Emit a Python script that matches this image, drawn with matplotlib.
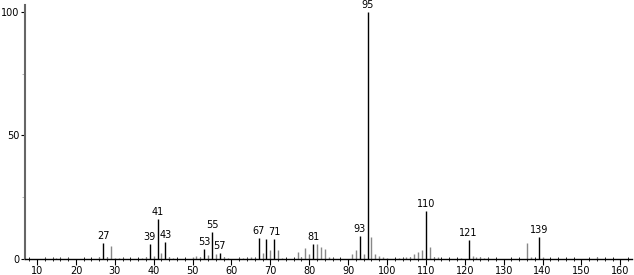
import matplotlib
matplotlib.use('Agg')
import matplotlib.pyplot as plt
from matplotlib.ticker import MultipleLocator

# Espectro de masas: m/z e intensidad relativa (%)
mz = [12, 14, 15, 16, 18, 26, 27, 28, 29, 30, 31, 32, 37, 38, 39, 40, 41, 42, 43, 44, 45,
      50, 51, 52, 53, 54, 55, 56, 57, 58, 59, 62, 63, 64, 65, 66, 67, 68, 69, 70, 71, 72, 73,
      77, 78, 79, 80, 81, 82, 83, 84, 85, 86, 91, 92, 93, 94, 95, 96, 97, 98, 99, 100,
      103, 104, 105, 106, 107, 108, 109, 110, 111, 112, 113, 119, 121, 122, 123, 124, 125,
      126, 136, 137, 139, 140, 154]
intensidad = [0.3, 0.3, 0.5, 0.3, 0.4, 1.0, 6.5, 1.0, 5.3, 0.5, 0.4, 0.3, 0.3, 0.8, 6.0, 1.2,
              16.0, 2.5, 7.0, 0.8, 0.5, 0.7, 1.2, 0.8, 4.0, 1.5, 11.0, 2.0, 2.5, 1.0, 0.6,
              0.5, 0.5, 0.5, 1.0, 0.6, 8.5, 2.5, 8.0, 3.5, 8.0, 3.5, 0.6, 3.0, 1.0, 4.5, 2.0,
              6.0, 6.0, 5.0, 4.0, 1.0, 0.6, 2.0, 3.5, 9.5, 2.0, 100.0, 9.0, 2.0, 1.2, 1.0,
              0.6, 0.4, 0.4, 1.0, 0.8, 2.0, 3.0, 3.5, 19.5, 5.0, 1.0, 1.0, 0.4, 7.5, 1.2,
              1.0, 0.7, 0.5, 0.4, 6.5, 1.0, 9.0, 1.0, 1.0]

# Picos con etiqueta
etiquetados = [27, 39, 41, 43, 53, 55, 57, 67, 71, 81, 93, 95, 110, 121, 139]
# Picos dibujados en negro (los etiquetados y el 69)
negros = etiquetados + [69]

fig = plt.figure(figsize=(6.34, 2.75), dpi=100)
ax = fig.add_axes([25 / 634, 16 / 275, 607 / 634, 254 / 275])

for m, i in zip(mz, intensidad):
    color = 'black' if m in negros else '#888888'
    ax.vlines(m, 0, i, color=color, linewidth=1.0)
    if m in etiquetados:
        ax.text(m, i + 0.8, str(m), ha='center', va='bottom', fontsize=7)

ax.set_xlim(6.9, 163)
ax.set_ylim(0, 102.8)

ax.xaxis.set_major_locator(MultipleLocator(10))
ax.xaxis.set_minor_locator(MultipleLocator(2))
ax.set_yticks([0, 50, 100])
ax.set_yticks([25, 75], minor=True)
ax.set_xticks(range(10, 161, 10))

ax.tick_params(axis='x', which='major', direction='out', length=4, width=0.8, labelsize=7, pad=1)
ax.tick_params(axis='x', which='minor', direction='inout', length=3, width=0.6)
ax.tick_params(axis='y', which='major', direction='out', length=3, width=0.8, labelsize=7, pad=1)
ax.tick_params(axis='y', which='minor', direction='out', length=2, width=0.6, colors='#aaaaaa')

ax.spines['top'].set_visible(False)
ax.spines['right'].set_visible(False)
ax.spines['left'].set_color('#666666')
ax.spines['left'].set_linewidth(1.5)
ax.spines['bottom'].set_linewidth(1.0)

plt.savefig('out.png', dpi=100)
